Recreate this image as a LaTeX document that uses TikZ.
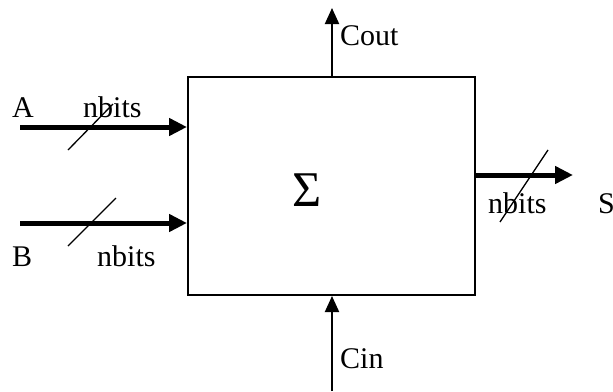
\documentclass[tikz,border=0pt]{standalone}
\usepackage{fontspec}
\setmainfont{Liberation Serif}
\usetikzlibrary{arrows.meta}
\begin{document}
\begin{tikzpicture}[x=1pt,y=-1pt,
  lbl/.style={anchor=base west,inner sep=0pt,font=\fontsize{30}{34}\selectfont},
  bus/.style={line width=5pt,-{Triangle[length=18pt,width=17pt]}},
  thin/.style={line width=2pt,-{Triangle[length=16pt,width=14pt]}},
  slash/.style={line width=1.3pt}]
\useasboundingbox (0,0) rectangle (613,391);
\node[draw,line width=2pt,minimum width=287pt,minimum height=218pt,inner sep=0pt] (box) at (331.5,186) {};
\node[font=\fontsize{50}{54}\selectfont,inner sep=0pt] (sig) at (307,190) {Σ};
% inputs
\coordinate (a0) at (20,127);
\coordinate (b0) at (20,223);
\draw[bus] (a0) -- (a0 -| box.west);
\draw[bus] (b0) -- (b0 -| box.west);
\coordinate (sa1) at (68,150); \coordinate (sa2) at (113,104);
\draw[slash] (sa1) -- (sa2);
\coordinate (sb1) at (68,246); \coordinate (sb2) at (116,198);
\draw[slash] (sb1) -- (sb2);
% output
\coordinate (s0) at (573,175);
\draw[bus] (s0 -| box.east) -- (s0);
\coordinate (ss1) at (500,222); \coordinate (ss2) at (548,150);
\draw[slash] (ss1) -- (ss2);
% carry
\coordinate (co) at (332,8);
\coordinate (ci) at (332,391);
\draw[thin] (co |- box.north) -- (co);
\draw[thin] (ci) -- (ci |- box.south);
% labels
\node[lbl] (tA) at (12,117) {A};
\node[lbl] (tnA) at (83,117) {nbits};
\node[lbl] (tB) at (12,266) {B};
\node[lbl] (tnB) at (97,266) {nbits};
\node[lbl] (tco) at (340,45) {Cout};
\node[lbl] (tci) at (340,368) {Cin};
\node[lbl] (tnS) at (488,213) {nbits};
\node[lbl] (tS) at (598,213) {S};
\end{tikzpicture}
\end{document}
